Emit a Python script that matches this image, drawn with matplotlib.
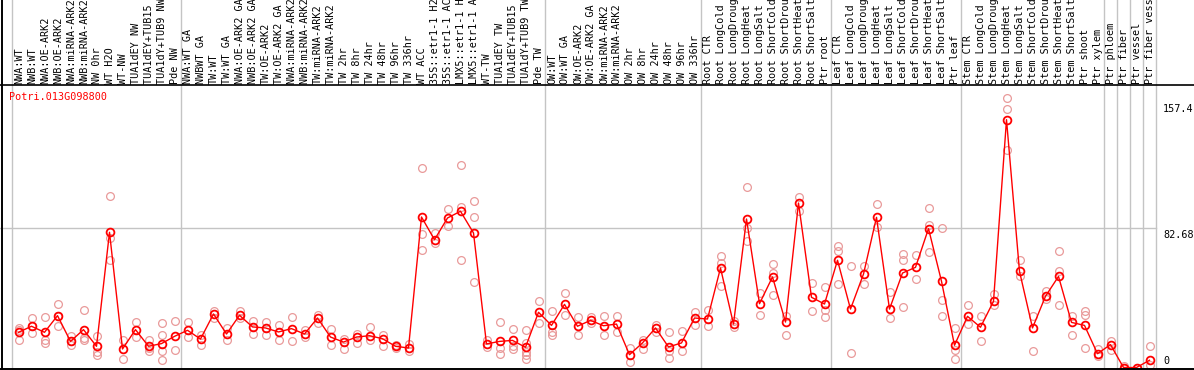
import matplotlib
matplotlib.use("Agg")
import matplotlib.pyplot as plt
import matplotlib.transforms as mtransforms
from matplotlib.lines import Line2D

# sample labels, in plot order
labels = [
    "NWA:WT", "NWB:WT", "NWA:OE-ARK2", "NWB:OE-ARK2", "NWA:miRNA-ARK2", "NWB:miRNA-ARK2",
    "NW 0hr", "WT H2O", "WT-NW", "TUA1dEY NW", "TUA1dEY+TUB15 NW", "TUA1dY+TUB9 NW", "Pde NW",
    "NWA:WT GA", "NWBWT GA", "TW:WT", "TW:WT GA", "NWA:OE-ARK2 GA", "NWB:OE-ARK2 GA",
    "TW:OE-ARK2", "TW:OE-ARK2 GA", "NWA:miRNA-ARK2 GA", "NWB:miRNA-ARK2 GA", "TW:miRNA-ARK2",
    "TW:miRNA-ARK2 GA", "TW 2hr", "TW 8hr", "TW 24hr", "TW 48hr", "TW 96hr", "TW 336hr",
    "WT ACC", "35S::etr1-1 H2O", "35S::etr1-1 ACC", "LMX5::etr1-1 H2O", "LMX5::etr1-1 ACC",
    "WT-TW", "TUA1dEY TW", "TUA1dEY+TUB15 TW", "TUA1dY+TUB9 TW", "Pde TW",
    "OW:WT", "OW:WT GA", "OW:OE-ARK2", "OW:OE-ARK2 GA", "OW:miRNA-ARK2", "OW:miRNA-ARK2 GA",
    "OW 2hr", "OW 8hr", "OW 24hr", "OW 48hr", "OW 96hr", "OW 336hr",
    "Root CTR", "Root LongCold", "Root LongDrought", "Root LongHeat", "Root LongSalt",
    "Root ShortCold", "Root ShortDrought", "Root ShortHeat", "Root ShortSalt", "Ptr root",
    "Leaf CTR", "Leaf LongCold", "Leaf LongDrought", "Leaf LongHeat", "Leaf LongSalt",
    "Leaf ShortCold", "Leaf ShortDrought", "Leaf ShortHeat", "Leaf ShortSalt", "Ptr leaf",
    "Stem CTR", "Stem LongCold", "Stem LongDrought", "Stem LongHeat", "Stem LongSalt",
    "Stem ShortCold", "Stem ShortDrought", "Stem ShortHeat", "Stem ShortSalt", "Ptr shoot",
    "Ptr xylem", "Ptr phloem", "Ptr fiber", "Ptr vessel", "Ptr fiber vessel",
]

# sizes of the blocks separated by grey lines
group_sizes = [13, 28, 12, 10, 10, 11, 1, 1, 1, 1]

means = [
    20.9, 24.5, 20.9, 30.8, 15.5, 22.5, 12.6, 80.3, 11.0, 22.5, 12.6, 14.2, 18.5,
    22.1, 16.9, 31.8, 19.9, 31.0, 24.1, 23.5, 21.1, 23.1, 19.9, 29.4, 18.1, 15.1, 18.1,
    18.9, 17.1, 12.6, 11.6, 89.4, 75.9, 88.8, 92.8, 79.9, 14.0, 15.5, 16.1, 12.0, 32.8,
    25.0, 37.5, 24.5, 28.0, 24.8, 25.8, 7.6, 14.6, 23.5, 12.2, 14.6, 29.4,
    28.8, 59.1, 25.8, 88.2, 37.9, 53.8, 27.0, 97.7, 41.7, 37.7,
    63.7, 34.7, 55.5, 89.2, 34.7, 56.1, 59.5, 82.5, 51.2, 13.2,
    30.4, 23.9, 39.3, 147.2, 57.1, 23.5, 42.3, 54.1, 26.8, 25.0,
    8.2, 13.6, 0.0, 0.0, 4.3,
]

replicates = [
    [23.5, 22.1, 16.5], [29.4, 20.5, 24.5], [29.8, 16.1, 14.6], [37.5, 24.5, 30.8],
    [18.5, 13.6, 15.5], [34.0, 17.5, 16.1], [18.5, 9.0, 7.6], [101.7, 76.9, 63.7],
    [16.5, 5.0], [26.8, 17.9], [16.1, 9.6, 11.6], [26.4, 19.5, 9.6, 4.3], [27.4, 10.2],
    [26.8, 17.9], [19.5, 13.6], [33.4, 29.4], [23.5, 16.5], [33.8, 29.4], [27.8, 20.1],
    [26.8, 19.1], [25.0, 16.5], [29.8, 15.5], [22.1, 17.9], [31.4, 26.4], [22.9, 13.6],
    [16.9, 11.2], [20.1, 14.6], [24.1, 16.1], [19.5, 12.6], [13.6, 11.6], [14.0, 9.6],
    [118.5, 79.3, 69.6], [79.9, 73.9], [94.1, 84.2], [120.1, 95.1, 63.7],
    [98.7, 89.2, 50.8], [16.5, 12.0], [26.8, 11.6, 8.0], [22.9, 13.0, 11.2],
    [22.1, 14.6, 9.0, 7.6, 5.0], [39.3, 26.2],
    [33.4, 20.9, 19.5], [44.0, 31.4], [29.8, 19.5], [29.8, 26.2], [30.4, 19.1],
    [30.4, 20.9], [11.6, 3.1], [16.5, 11.0], [25.4, 20.9], [20.9, 9.6, 5.6],
    [21.5, 9.6], [33.0, 25.4],
    [34.0, 24.5], [66.0, 62.1, 48.2], [24.1, 27.4], [107.2, 82.9, 74.9], [44.2, 31.0],
    [61.5, 56.1, 42.9], [30.4, 19.1], [101.3, 92.8], [50.2, 33.4], [47.6, 34.3, 29.8],
    [72.4, 69.0, 49.6], [60.1, 8.4], [60.1, 49.6], [97.1, 83.2], [44.8, 29.4],
    [67.6, 63.9, 35.9], [66.6, 52.8], [94.7, 84.8, 68.4], [82.9, 39.9, 30.4],
    [23.5, 10.2, 5.0],
    [37.3, 26.0], [30.8, 15.5], [43.7, 36.9], [160.1, 153.8, 129.4], [63.7, 54.5],
    [30.4, 9.6], [45.2, 40.9], [69.0, 57.1, 36.9], [30.8, 19.1], [33.8, 31.4, 11.6],
    [11.0, 6.6], [15.9, 10.6], [0.7, 0.0], [0.0], [12.6, 1.3],
]

y_ticks = [157.4, 82.68, 0]
gene = "Potri.013G098800"

W, H = 1194, 370
fig = plt.figure(figsize=(W / 100, H / 100), dpi=100)
ax = fig.add_axes([0, 0, 1, 1])
ax.set_axis_off()

# pixel layout: sample i at x = 18.5 + 13*i, value v at y(from top) = 367.5 - 1.6836*v
step, x0 = 13.0, 18.5
ax.set_xlim(-x0 / step, (W - x0) / step)
ax.set_ylim(-(H - 367.5) / 1.6836, 367.5 / 1.6836)

grey = "#c4c4c4"
mono = "DejaVu Sans Mono"
fs = 7.3

# group separators
edge = -0.5
ax.axvline(edge, color=grey, lw=1, zorder=1)
for g in group_sizes:
    edge += g
    ax.axvline(edge, color=grey, lw=1, zorder=1)
ax.plot([-2, edge], [y_ticks[1]] * 2, color=grey, lw=1, zorder=1)

xs = range(len(means))
for i, reps in enumerate(replicates):
    ax.plot([i] * len(reps), reps, "o", ms=5.6, mfc="none", mec="#e99a9a", mew=0.9,
            zorder=2, clip_on=False)
ax.plot(xs, means, "-", color="red", lw=1.0, zorder=3)
ax.plot(xs, means, "o", ms=5.6, mfc="none", mec="red", mew=1.3, zorder=4, clip_on=False)

# sample labels, rotated, clipped by the top edge
lab_tr = mtransforms.blended_transform_factory(ax.transData, fig.transFigure)
for i, lab in enumerate(labels):
    ax.text(i + 0.05, 1 - 84 / H, lab, rotation=90, ha="center", va="bottom",
            family=mono, fontsize=fs, transform=lab_tr)

# right side value labels
val_tr = mtransforms.blended_transform_factory(fig.transFigure, ax.transData)
off_down = mtransforms.offset_copy(val_tr, fig=fig, y=-1.5, units="dots")
off_up = mtransforms.offset_copy(val_tr, fig=fig, y=1.5, units="dots")
for v in y_ticks:
    txt = f"{v:g}"
    if v == 0:
        ax.text(1163 / W, v, txt, ha="left", va="bottom", family=mono, fontsize=fs,
                transform=off_up)
    else:
        ax.text(1163 / W, v, txt, ha="left", va="top", family=mono, fontsize=fs,
                transform=off_down)

fig.text(9 / W, 1 - 96.5 / H, gene, color="red", ha="left", va="center",
         family=mono, fontsize=fs)

# black frame lines
fig.add_artist(Line2D([0, 1], [1 - 85 / H] * 2, color="black", lw=1.2))
fig.add_artist(Line2D([0, 1], [1 - 369 / H] * 2, color="black", lw=1.4))
fig.add_artist(Line2D([1.5 / W] * 2, [0, 1], color="black", lw=1.4))

fig.savefig("out.png", dpi=100)
